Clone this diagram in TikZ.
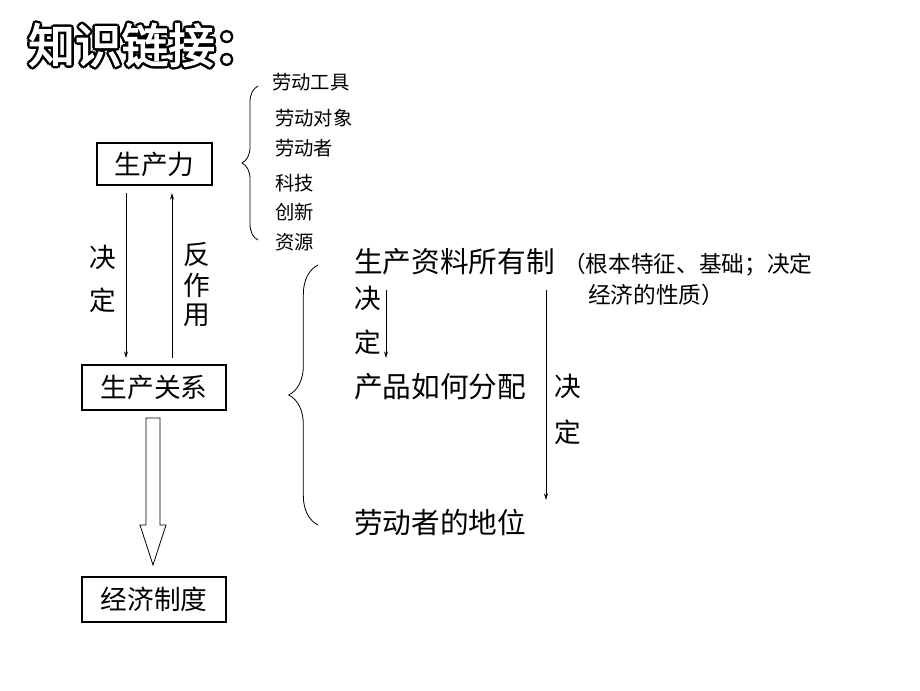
\documentclass[tikz,border=0pt]{standalone}
\usepackage{fontspec}
\setmainfont{Noto Sans CJK SC}
\newfontfamily\cjkb{Noto Sans CJK SC}[FakeBold=3]
\usetikzlibrary{decorations.pathreplacing,arrows.meta}
\begin{document}
\begin{tikzpicture}[x=0.75pt,y=-0.75pt,
 bx/.style={draw,line width=0.8pt,inner sep=4pt,font=\fontsize{20}{22}\selectfont},
 sm/.style={anchor=west,font=\fontsize{14.5}{16}\selectfont,inner sep=0},
 md/.style={anchor=west,font=\fontsize{21.5}{24}\selectfont,inner sep=0},
 lb/.style={font=\fontsize{20}{22}\selectfont,inner sep=0},
 ar/.style={-{Stealth[length=5pt,width=3pt]},line width=0.6pt},
 br/.style={decorate,decoration={brace,amplitude=12pt},line width=0.6pt}]
\useasboundingbox (0,0) rectangle (920,690);
% title
\foreach \dx/\dy in {-2.5/0,2.5/0,0/-2.5,0/2.5,-1.8/-1.8,1.8/1.8,-1.8/1.8,1.8/-1.8}
 \node[font=\cjkb\fontsize{35}{37}\selectfont] at (145+\dx,45+\dy) {知识链接：};
\node[font=\cjkb\fontsize{35}{37}\selectfont,text=white] (t) at (145,45) {知识链接：};
% boxes
\node[bx,minimum width=115*0.75pt,minimum height=42*0.75pt] (a) at (154.5,164) {生产力};
\node[bx,minimum width=144*0.75pt,minimum height=45*0.75pt] (b) at (154,387.5) {生产关系};
\node[bx,minimum width=144*0.75pt,minimum height=45*0.75pt] (c) at (154,599.5) {经济制度};
% arrows
\coordinate (d1) at (126,193); \coordinate (d2) at (126,358);
\coordinate (u1) at (172,358); \coordinate (u2) at (172,193);
\draw[ar] (d1) -- (d2); \draw[ar] (u1) -- (u2);
\node[lb] (j1) at (103,257) {决}; \node[lb] (j2) at (103,300) {定};
\node[lb] (f1) at (197,255) {反}; \node[lb] (f2) at (197,285) {作}; \node[lb] (f3) at (197,315) {用};
% hollow arrow
\draw[line width=0.6pt] (146,418) -- (146,525) -- (140,525) -- (153,565) -- (166,525) -- (160,525) -- (160,418) -- cycle;
% brace 1
\coordinate (b1t) at (258,86); \coordinate (b1b) at (258,240);
\draw[br] (b1b) -- (b1t);
\node[sm] at (272,82) {劳动工具};
\node[sm] at (275,118) {劳动对象};
\node[sm] at (275,148) {劳动者};
\node[sm] at (275,183) {科技};
\node[sm] at (275,212) {创新};
\node[sm] at (275,242) {资源};
% brace 2
\coordinate (b2t) at (318,265); \coordinate (b2b) at (318,525);
\draw[br,decoration={brace,amplitude=22pt}] (b2b) -- (b2t);
\node[md] (p1) at (354,262) {生产资料所有制};
\node[sm,font=\fontsize{17}{19}\selectfont] at (563,265) {（根本特征、基础；决定};
\node[sm,font=\fontsize{17}{19}\selectfont] at (588,295) {经济的性质）};
\node[lb] at (368,298) {决}; \node[lb] at (368,342) {定};
\coordinate (s1) at (386,290); \coordinate (s2) at (386,358);
\draw[ar] (s1) -- (s2);
\node[md] (p2) at (354,387) {产品如何分配};
\coordinate (l1) at (546,290); \coordinate (l2) at (546,500);
\draw[ar] (l1) -- (l2);
\node[lb] at (568,386) {决}; \node[lb] at (568,432) {定};
\node[md] (p3) at (354,522) {劳动者的地位};
\end{tikzpicture}
\end{document}
